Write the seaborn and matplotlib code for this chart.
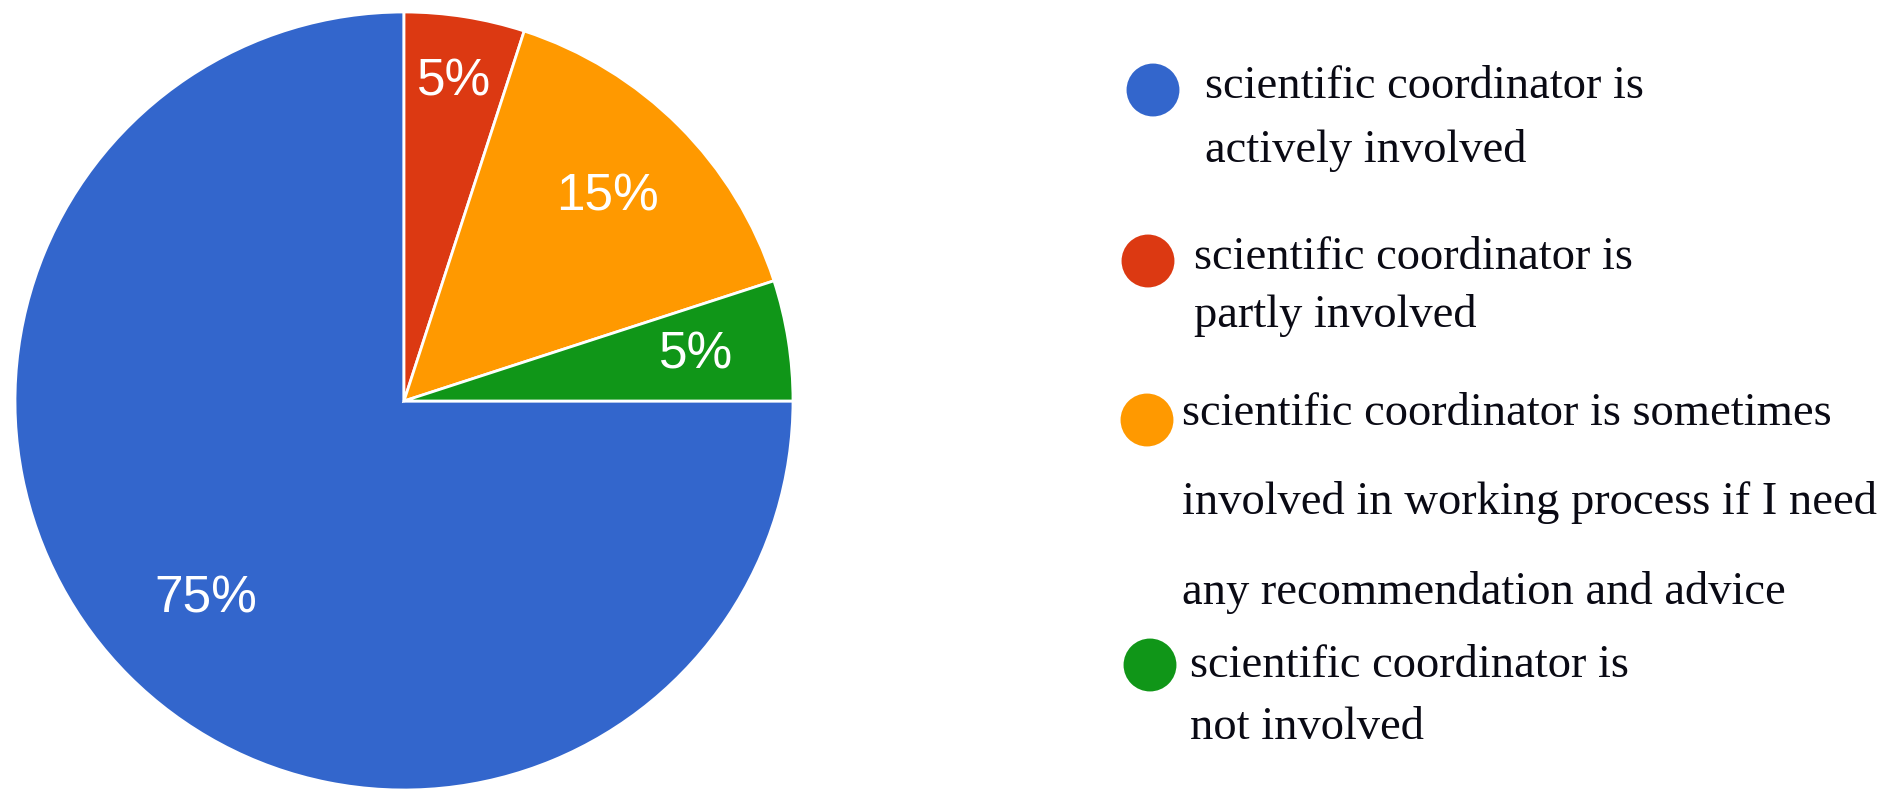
import numpy as np
import matplotlib
matplotlib.use("Agg")
import matplotlib.pyplot as plt
import seaborn as sns

# data
categories = [
    "scientific coordinator is actively involved",
    "scientific coordinator is partly involved",
    "scientific coordinator is sometimes involved in working process if I need any recommendation and advice",
    "scientific coordinator is not involved",
]
shares = [75, 5, 15, 5]
pct_labels = ["75%", "5%", "15%", "5%"]
legend_lines = [
    ["scientific coordinator is", "actively involved"],
    ["scientific coordinator is", "partly involved"],
    ["scientific coordinator is sometimes",
     "involved in working process if I need",
     "any recommendation and advice"],
    ["scientific coordinator is", "not involved"],
]
colors = ["#3366cc", "#dc3912", "#ff9900", "#109618"]

sns.set_theme(style="white")
palette = sns.color_palette(colors)

W, H = 1883, 792
fig = plt.figure(figsize=(W / 100, H / 100), dpi=100)

# pie: center ~(404, 401) px, radius ~389 px
R = 389
cx, cy = 404, H - 401
ax = fig.add_axes([(cx - R) / W, (cy - R) / H, 2 * R / W, 2 * R / H])
wedges, _ = ax.pie(shares, colors=palette, startangle=0, counterclock=False,
                   radius=1, wedgeprops=dict(edgecolor="white", linewidth=2))
ax.set_xlim(-1, 1)
ax.set_ylim(-1, 1)
ax.set_aspect("equal")
ax.axis("off")

# percentage labels (google-charts style, slightly uneven radii)
label_r = [0.72, 0.83, 0.74, 0.76]
for w, txt, r in zip(wedges, pct_labels, label_r):
    mid = np.deg2rad((w.theta1 + w.theta2) / 2)
    ax.text(r * np.cos(mid), r * np.sin(mid), txt, ha="center", va="center",
            color="white", fontsize=37, family=["Liberation Sans", "DejaVu Sans"])

# legend drawn by hand in pixel coords
lax = fig.add_axes([0, 0, 1, 1])
lax.set_xlim(0, W)
lax.set_ylim(H, 0)
lax.axis("off")
lax.patch.set_alpha(0)

marker_xy = [(1153, 90), (1148, 261), (1147, 420), (1150, 665)]
text_x = [1205, 1194, 1182, 1190]
baselines = [[98, 162], [269, 327], [425, 514, 604], [677, 739]]

for (mx, my), col in zip(marker_xy, palette):
    lax.scatter([mx], [my], s=1450, color=col, edgecolor="none")
for lines, tx, ys in zip(legend_lines, text_x, baselines):
    for line, y in zip(lines, ys):
        lax.text(tx, y, line, ha="left", va="baseline", fontsize=33.5,
                 color="#0a0a14", family=["Liberation Serif", "DejaVu Serif"])

fig.savefig("out.png", dpi=100, facecolor="white")
